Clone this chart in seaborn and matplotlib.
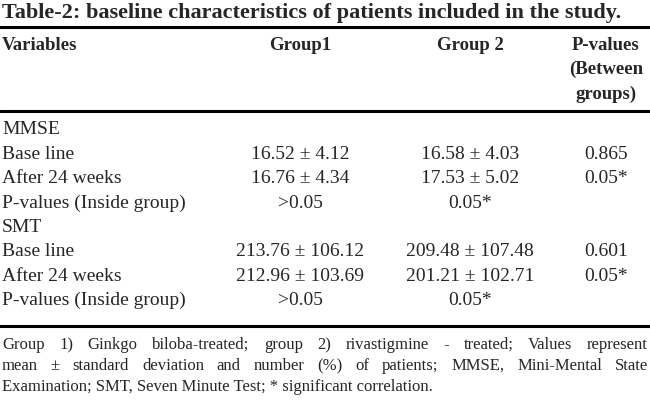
import matplotlib
matplotlib.use("Agg")
import matplotlib.pyplot as plt
import seaborn as sns

sns.set_theme(style="white")
plt.rcParams['font.family'] = ['Liberation Serif', 'DejaVu Serif']

title = "Table-2: baseline characteristics of patients included in the study."
headers = ["Variables", "Group1", "Group 2", "P-values\n(Between\ngroups)"]
row_labels = ["MMSE", "Base line", "After 24 weeks", "P-values (Inside group)",
              "SMT", "Base line", "After 24 weeks", "P-values (Inside group)"]
group1 = ["", "16.52 ± 4.12", "16.76 ± 4.34", ">0.05",
          "", "213.76 ± 106.12", "212.96 ± 103.69", ">0.05"]
group2 = ["", "16.58 ± 4.03", "17.53 ± 5.02", "0.05*",
          "", "209.48 ± 107.48", "201.21 ± 102.71", "0.05*"]
pvals = ["", "0.865", "0.05*", "", "", "0.601", "0.05*", ""]
footnote = ["Group 1) Ginkgo biloba-treated; group 2) rivastigmine - treated; Values represent",
            "mean ± standard deviation and number (%) of patients; MMSE, Mini-Mental State",
            "Examination; SMT, Seven Minute Test; * significant correlation."]

W, H = 650, 402
fig = plt.figure(figsize=(6.5, 4.02), dpi=100)
ax = fig.add_axes([0, 0, 1, 1])
ax.set_xlim(0, W)
ax.set_ylim(H, 0)
ax.axis("off")

ax.text(2, 13, title, fontsize=16, fontweight="bold", va="center", ha="left")
for y in (28, 112, 327):
    ax.plot([0, W], [y, y], color="black", lw=2.2)

ax.text(2, 45, headers[0], fontsize=13.5, fontweight="bold", va="center")
ax.text(300, 45, headers[1], fontsize=13.5, fontweight="bold", va="center", ha="center")
ax.text(470, 45, headers[2], fontsize=13.5, fontweight="bold", va="center", ha="center")
for i, ln in enumerate(headers[3].split("\n")):
    ax.text(606, 45 + 24.5 * i, ln, fontsize=13.5, fontweight="bold", va="center", ha="center")

for i in range(len(row_labels)):
    y = 130 + 24.4 * i
    ax.text(2, y, row_labels[i], fontsize=14, va="center")
    ax.text(300, y, group1[i], fontsize=14, va="center", ha="center")
    ax.text(470, y, group2[i], fontsize=14, va="center", ha="center")
    ax.text(606, y, pvals[i], fontsize=14, va="center", ha="center")

fig.canvas.draw()
r = fig.canvas.get_renderer()
for j, line in enumerate(footnote):
    y = 345 + 21 * j
    if j < len(footnote) - 1:
        words = line.split(" ")
        ts = [ax.text(0, y, w, fontsize=12, va="center") for w in words]
        widths = [t.get_window_extent(r).width for t in ts]
        gap = (W - 4 - sum(widths)) / (len(words) - 1)
        x = 2
        for t, wd in zip(ts, widths):
            t.set_x(x)
            x += wd + gap
    else:
        ax.text(2, y, line, fontsize=12, va="center")

fig.savefig("out.png", dpi=100)
